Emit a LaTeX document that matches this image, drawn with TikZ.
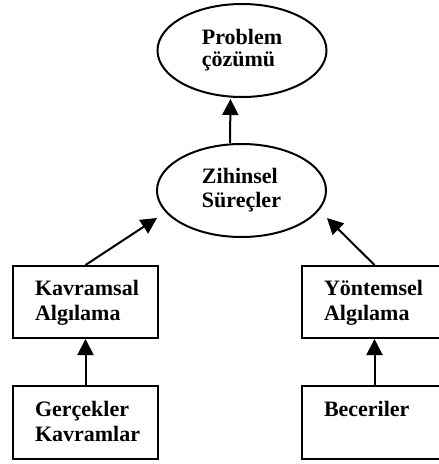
\documentclass[tikz,border=0pt]{standalone}
\usepackage{fontspec}
\setmainfont{Liberation Serif}
\usetikzlibrary{shapes.geometric,arrows.meta}
\newcommand{\tstrut}{\rule{0pt}{20pt}}
\begin{document}
\begin{tikzpicture}[x=1pt,y=-1pt,
  every node/.style={font=\fontsize{22}{25}\selectfont\bfseries},
  oval/.style={draw, ellipse, line width=2pt, minimum width=169pt, minimum height=93pt, inner sep=0pt, align=left},
  box/.style={draw, rectangle, line width=2pt, minimum width=145pt, minimum height=72pt, inner xsep=22pt, inner ysep=0pt, text width=101pt, align=left},
  arr/.style={line width=2pt, -{Triangle[length=16pt,width=16pt]}}]
\useasboundingbox (0,0) rectangle (439,464);
\node[oval] (ps) at (242,50.5) {Problem\\[-3pt]çözümü};
\node[oval] (zs) at (241.5,190.5) {Zihinsel\\[-1pt]Süreçler};
\node[box] (ka) at (85.5,302) {\tstrut Kavramsal\\Algılama\strut};
\node[box] (ya) at (374.5,302) {\tstrut Yöntemsel\\Algılama\strut};
\node[box, minimum height=73pt] (gk) at (85.5,422.5) {\tstrut Gerçekler\\Kavramlar\strut};
\node[box, minimum height=73pt] (be) at (374.5,422.5) {\tstrut Beceriler\\\strut};
\coordinate (tl) at (157,218);
\coordinate (tr) at (327,218);
\draw[arr] (gk.north) -- (ka.south);
\draw[arr] (be.north) -- (ya.south);
\draw[arr] (ka.north) -- (tl);
\draw[arr] (ya.north) -- (tr);
\draw[arr] ([xshift=-11.5pt]zs.north) -- ([xshift=-11.5pt,yshift=-1pt]ps.south);
\end{tikzpicture}
\end{document}
